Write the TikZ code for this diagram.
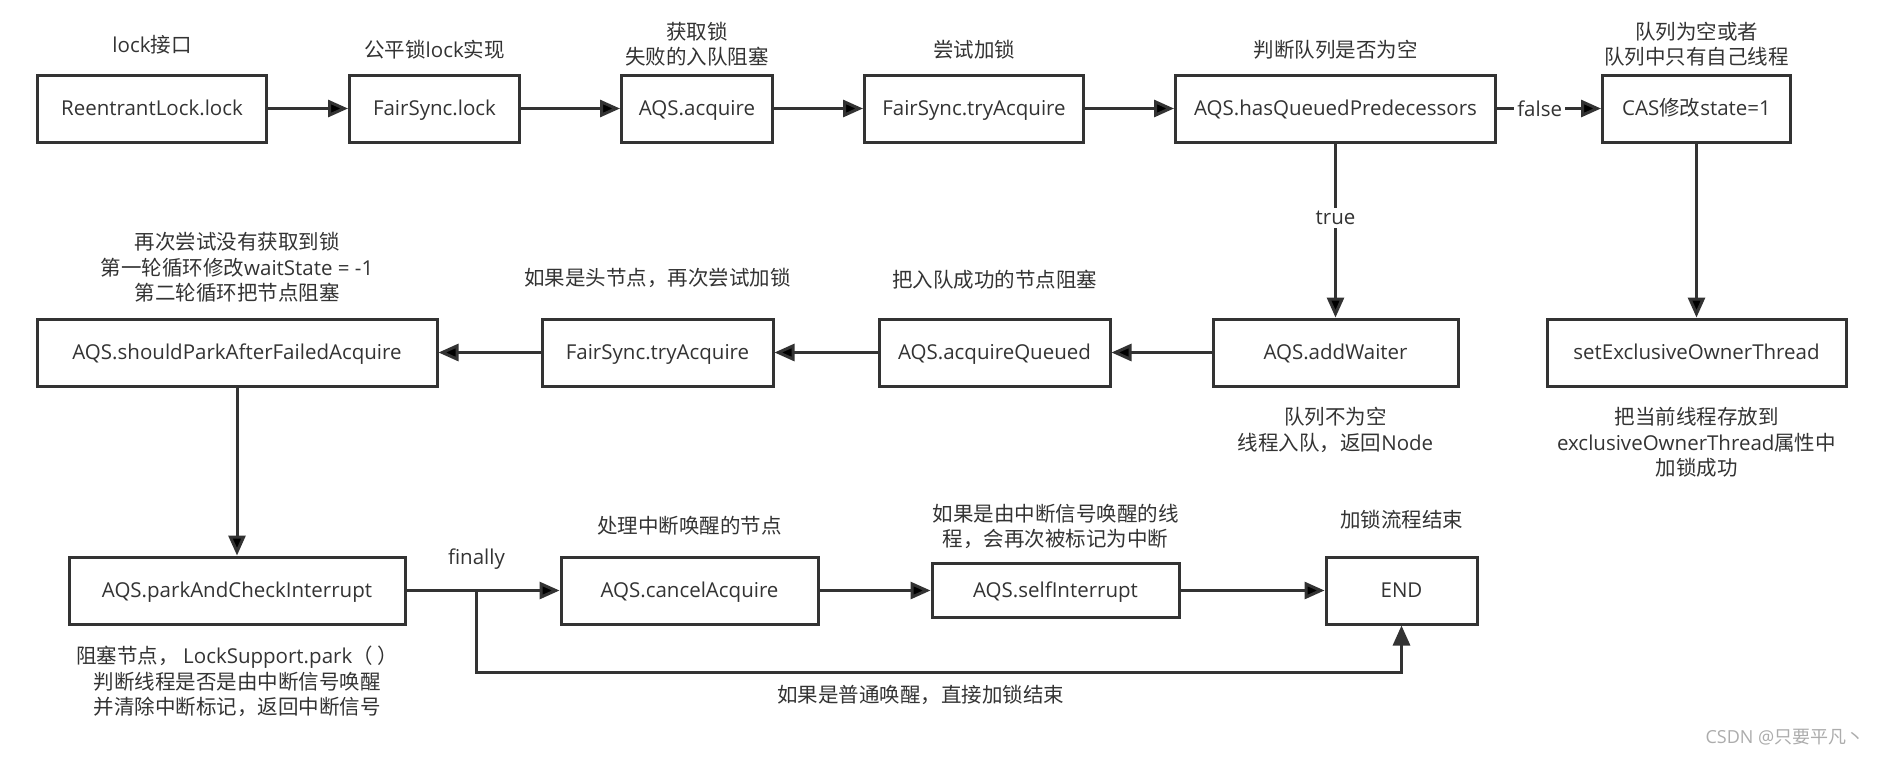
\documentclass[tikz,border=0pt]{standalone}
\usepackage{fontspec}
\setmainfont{Open Sans}
\newfontfamily\zhfont{Noto Sans CJK SC}
\newcommand{\zh}[1]{{\zhfont #1}}
\newcommand{\bodysize}{\fontsize{20.5}{25.5}\selectfont}
\usetikzlibrary{positioning,arrows.meta}
\definecolor{ink}{HTML}{333333}

\tikzset{
	box/.style={draw=ink, line width=3pt, text=ink, minimum height=67pt, inner sep=0pt, text height=18pt, text depth=3.4pt},
	note/.style={text=ink, align=center, inner sep=0pt},
	flow/.style={draw=ink, line width=3pt, -{Triangle[length=20pt,width=17pt]}},
	tag/.style={fill=white, text=ink, inner sep=3pt}
}

\begin{document}
\begin{tikzpicture}[font=\bodysize]
					\useasboundingbox (0pt,0pt) rectangle (1882pt,-756pt);

					% top row
					\node[box, minimum width=229pt] (rl) at (152pt,-108.5pt) {ReentrantLock.lock};
					\node[box, minimum width=170pt] (fsl) [right=80pt of rl] {FairSync.lock};
					\node[box, minimum width=151pt] (acq) [right=99pt of fsl] {AQS.acquire};
					\node[box, minimum width=219pt] (try) [right=89pt of acq] {FairSync.tryAcquire};
					\node[box, minimum width=320pt] (hq) [right=89pt of try] {AQS.hasQueuedPredecessors};
					\node[box, minimum width=188pt] (cas) [right=104pt of hq] {CAS\zh{修改}state=1};

					% middle row
					\node[box, minimum width=245pt] (aw) [below=174pt of hq] {AQS.addWaiter};
					\node[box, minimum width=299pt] (se) [below=174pt of cas] {setExclusiveOwnerThread};
					\node[box, minimum width=231pt] (aq) [left=100pt of aw] {AQS.acquireQueued};
					\node[box, minimum width=231pt] (ft2) [left=103pt of aq] {FairSync.tryAcquire};
					\node[box, minimum width=400pt] (sp) [left=102pt of ft2] {AQS.shouldParkAfterFailedAcquire};

					% bottom row
					\node[box, minimum width=336pt] (pc) [below=168pt of sp] {AQS.parkAndCheckInterrupt};
					\node[box, minimum width=257pt] (ca) [right=153pt of pc] {AQS.cancelAcquire};
					\node[box, minimum width=247pt, minimum height=54pt] (si) [right=111pt of ca] {AQS.selfInterrupt};
					\node[box, minimum width=151pt] (end) [right=144pt of si] {END};

					% notes
					\node[note] (rl-txt) at ([yshift=29pt]rl.north) {lock\zh{接口}};
					\node[note] (fsl-txt) at ([yshift=24pt]fsl.north) {\zh{公平锁}lock\zh{实现}};
					\node[note] (acq-txt) at ([yshift=29.5pt]acq.north) {\zh{获取锁}\\\zh{失败的入队阻塞}};
					\node[note] (try-txt) at ([yshift=24pt]try.north) {\zh{尝试加锁}};
					\node[note] (hq-txt) at ([yshift=24pt]hq.north) {\zh{判断队列是否为空}};
					\node[note] (cas-txt) at ([yshift=29.5pt]cas.north) {\zh{队列为空或者}\\\zh{队列中只有自己线程}};
					\node[note] (sp-txt) at ([yshift=50pt]sp.north) {\zh{再次尝试没有获取到锁}\\\zh{第一轮循环修改}waitState = -1\\\zh{第二轮循环把节点阻塞}};
					\node[note] (ft2-txt) at ([yshift=40pt]ft2.north) {\zh{如果是头节点，再次尝试加锁}};
					\node[note] (aq-txt) at ([yshift=38pt]aq.north) {\zh{把入队成功的节点阻塞}};
					\node[note] (aw-txt) at ([yshift=-42.5pt]aw.south) {\zh{队列不为空}\\\zh{线程入队，返回}Node};
					\node[note] (se-txt) at ([yshift=-55pt]se.south) {\zh{把当前线程存放到}\\exclusiveOwnerThread\zh{属性中}\\\zh{加锁成功}};
					\node[note] (pc-txt) at ([yshift=-56pt]pc.south) {\zh{阻塞节点， }LockSupport.park\zh{（ ）}\\\zh{判断线程是否是由中断信号唤醒}\\\zh{并清除中断标记，返回中断信号}};
					\node[note] (ca-txt) at ([yshift=30pt]ca.north) {\zh{处理中断唤醒的节点}};
					\node[note] (si-txt) at ([yshift=35.5pt]si.north) {\zh{如果是由中断信号唤醒的线}\\\zh{程，会再次被标记为中断}};
					\node[note] (end-txt) at ([yshift=36pt]end.north) {\zh{加锁流程结束}};

					\coordinate (fork) at ([xshift=70pt]pc.east);
					\node[note] (fin) at ([yshift=31pt]fork) {finally};

					\path[flow]
						(rl) edge (fsl)
						(fsl) edge (acq)
						(acq) edge (try)
						(try) edge (hq)
						(hq) edge node[tag, pos=0.41] {false} (cas)
						(hq) edge node[tag, pos=0.43] {true} (aw)
						(cas) edge (se)
						(aw) edge (aq)
						(aq) edge (ft2)
						(ft2) edge (sp)
						(sp) edge (pc)
						(pc) edge (ca)
						(ca) edge (si)
						(si) edge (end)
					;
					\draw[flow] (fork) -- ++(0pt,-82pt) -| node[note, pos=0.24, yshift=-22pt] {\zh{如果是普通唤醒，直接加锁结束}} (end);

					\node[text=gray!65, font=\fontsize{18}{20}\selectfont] (mark) at (1785pt,-737pt) {CSDN @\zh{只要平凡丶}};
				\end{tikzpicture}
\end{document}
